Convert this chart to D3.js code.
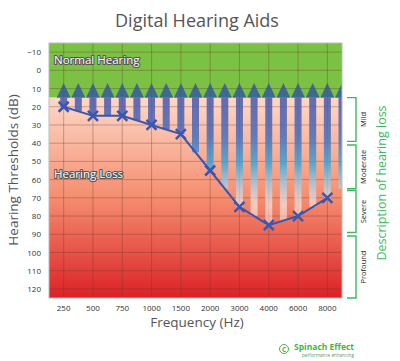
<!DOCTYPE html>
<html>
<head>
<meta charset="utf-8">
<script src="https://cdn.jsdelivr.net/npm/d3@7"></script>
<style>
  body { margin: 0; background: #fff; }
  svg { display: block; font-family: "Open Sans", sans-serif; }
</style>
</head>
<body>
<svg id="chart" width="400" height="361"></svg>
<script>
// data
const freqs = ["250", "500", "750", "1000", "1500", "2000", "3000", "4000", "6000", "8000"];
const loss = [20, 25, 25, 30, 35, 55, 75, 85, 80, 70];
const yTicks = [-10, 0, 10, 20, 30, 40, 50, 60, 70, 80, 90, 100, 110, 120];
const levels = ["Mild", "Moderate", "Severe", "Profound"];
const levelLo = [15, 41, 66, 91];
const levelHi = [39, 65, 89, 125];
const normalLimit = 15;

const svg = d3.select("#chart");
const L = 49, R = 342, T = 43, B = 298;

const x = d3.scaleBand().domain(freqs).range([L, R]);
const y = d3.scaleLinear().domain([-15, 125]).range([T, B]);
const bw = x.bandwidth();
const cx = f => x(f) + bw / 2;

const defs = svg.append("defs");
defs.append("clipPath").attr("id", "plot-clip")
  .append("rect").attr("x", L).attr("y", T).attr("width", R - L).attr("height", B - T);

const bg = defs.append("linearGradient").attr("id", "loss-bg")
  .attr("x1", 0).attr("y1", 0).attr("x2", 0).attr("y2", 1);
bg.append("stop").attr("offset", "0%").attr("stop-color", "#fdd9c8");
bg.append("stop").attr("offset", "50%").attr("stop-color", "#f58d6f");
bg.append("stop").attr("offset", "100%").attr("stop-color", "#db2126");

const sg = defs.append("linearGradient").attr("id", "shaft")
  .attr("gradientUnits", "userSpaceOnUse")
  .attr("x1", 0).attr("x2", 0).attr("y1", y(normalLimit)).attr("y2", y(85));
[[0, "#4a58aa", 0.85], [0.3, "#4a6cba", 0.85], [0.52, "#3aa6dc", 0.82], [0.85, "#ffffff", 0.55], [1, "#ffffff", 0.4]]
  .forEach(s => sg.append("stop").attr("offset", s[0]).attr("stop-color", s[1]).attr("stop-opacity", s[2]));

// title
svg.append("text").attr("x", 197).attr("y", 27).attr("text-anchor", "middle")
  .attr("font-size", 18).attr("fill", "#555").text("Digital Hearing Aids");

const plot = svg.append("g").attr("clip-path", "url(#plot-clip)");

// backgrounds
plot.append("rect").attr("x", L).attr("y", T).attr("width", R - L)
  .attr("height", y(normalLimit) - T).attr("fill", "#7bc143");
plot.append("rect").attr("x", L).attr("y", y(normalLimit)).attr("width", R - L)
  .attr("height", B - y(normalLimit)).attr("fill", "url(#loss-bg)");

// grid
plot.selectAll(".hg").data(yTicks).join("line")
  .attr("x1", L).attr("x2", R).attr("y1", d => y(d)).attr("y2", d => y(d))
  .attr("stroke", "#6b3a2a").attr("stroke-opacity", 0.35);
plot.selectAll(".vg").data(freqs).join("line")
  .attr("x1", cx).attr("x2", cx).attr("y1", T).attr("y2", B)
  .attr("stroke", "#6b3a2a").attr("stroke-opacity", 0.35);

// arrows: one on each frequency and one half way to the next
const arrows = [];
freqs.forEach((f, i) => {
  arrows.push({ x: cx(f), v: loss[i] });
  const nxt = i < loss.length - 1 ? loss[i + 1] : 60;
  arrows.push({ x: cx(f) + bw / 2, v: (loss[i] + nxt) / 2 });
});
const tip = 7, headW = 14, shaftW = 7;
const ag = plot.append("g");
ag.selectAll(".shaft").data(arrows).join("rect")
  .attr("x", d => d.x - shaftW / 2).attr("width", shaftW)
  .attr("y", y(normalLimit)).attr("height", d => y(d.v) - y(normalLimit))
  .attr("fill", "url(#shaft)");
ag.selectAll(".head").data(arrows).join("path")
  .attr("d", d => `M${d.x},${y(tip)}L${d.x + headW / 2},${y(normalLimit)}L${d.x - headW / 2},${y(normalLimit)}Z`)
  .attr("fill", "#2f55a0").attr("fill-opacity", 0.8);

// hearing curve
const line = d3.line().x((d, i) => cx(freqs[i])).y(d => y(d));
plot.append("path").datum(loss).attr("d", line)
  .attr("fill", "none").attr("stroke", "#3a56b0").attr("stroke-width", 2);
const m = 5;
plot.selectAll(".mk").data(loss).join("path")
  .attr("d", (d, i) => {
    const px = cx(freqs[i]), py = y(d);
    return `M${px - m},${py - m}L${px + m},${py + m}M${px - m},${py + m}L${px + m},${py - m}`;
  })
  .attr("stroke", "#3a56b0").attr("stroke-width", 2.5).attr("fill", "none");

// region labels
[["Normal Hearing", 64], ["Hearing Loss", 178]].forEach(([t, yy]) => {
  svg.append("text").attr("x", 54).attr("y", yy).attr("font-size", 11.5)
    .attr("fill", "#fff").attr("stroke", "#555").attr("stroke-width", 2.2)
    .attr("paint-order", "stroke").attr("stroke-linejoin", "round").text(t);
});

// frame
svg.append("rect").attr("x", L).attr("y", T).attr("width", R - L).attr("height", B - T)
  .attr("fill", "none").attr("stroke", "#bbb").attr("stroke-width", 1);

// axes
const yAxis = svg.append("g").attr("transform", `translate(${L},0)`)
  .call(d3.axisLeft(y).tickValues(yTicks).tickSize(0).tickPadding(8));
yAxis.select(".domain").remove();
yAxis.selectAll("text").attr("font-size", 8).attr("fill", "#333").attr("font-family", "Open Sans");

const xAxis = svg.append("g").attr("transform", `translate(0,${B})`)
  .call(d3.axisBottom(x).tickSize(0).tickPadding(7));
xAxis.select(".domain").remove();
xAxis.selectAll("text").attr("font-size", 8).attr("fill", "#333").attr("font-family", "Open Sans");

svg.append("text").attr("transform", "translate(18,170) rotate(-90)").attr("text-anchor", "middle")
  .attr("font-size", 13.5).attr("fill", "#555").text("Hearing Thresholds (dB)");
svg.append("text").attr("x", 197).attr("y", 327).attr("text-anchor", "middle")
  .attr("font-size", 13.5).attr("fill", "#555").text("Frequency (Hz)");

// description brackets
const green = "#3dba5e";
const br = svg.append("g");
levels.forEach((lv, i) => {
  const a = y(levelLo[i]), b = y(levelHi[i]);
  br.append("path").attr("d", `M347,${a}H356V${b}H347`)
    .attr("fill", "none").attr("stroke", green).attr("stroke-width", 1.4);
  br.append("text").attr("transform", `translate(366,${(a + b) / 2}) rotate(-90)`)
    .attr("text-anchor", "middle").attr("font-size", 7.5).attr("fill", "#222").text(lv);
});
svg.append("text").attr("transform", "translate(386,183) rotate(-90)").attr("text-anchor", "middle")
  .attr("font-size", 12.5).attr("fill", green).text("Description of hearing loss");

// logo
const logo = svg.append("g");
logo.append("circle").attr("cx", 284).attr("cy", 349).attr("r", 4.5)
  .attr("fill", "none").attr("stroke", "#3fb548").attr("stroke-width", 1);
logo.append("text").attr("x", 284).attr("y", 351.5).attr("text-anchor", "middle")
  .attr("font-size", 6.5).attr("font-weight", "bold").attr("fill", "#3fb548").text("C");
logo.append("text").attr("x", 294).attr("y", 350).attr("textLength", 60)
  .attr("lengthAdjust", "spacingAndGlyphs")
  .attr("font-size", 9).attr("font-weight", "bold").attr("fill", "#3fb548").text("Spinach Effect");
logo.append("text").attr("x", 302).attr("y", 357).attr("textLength", 52)
  .attr("lengthAdjust", "spacingAndGlyphs")
  .attr("font-size", 4.5).attr("fill", "#5a9a5a").text("performance enhancing");
</script>
</body>
</html>
